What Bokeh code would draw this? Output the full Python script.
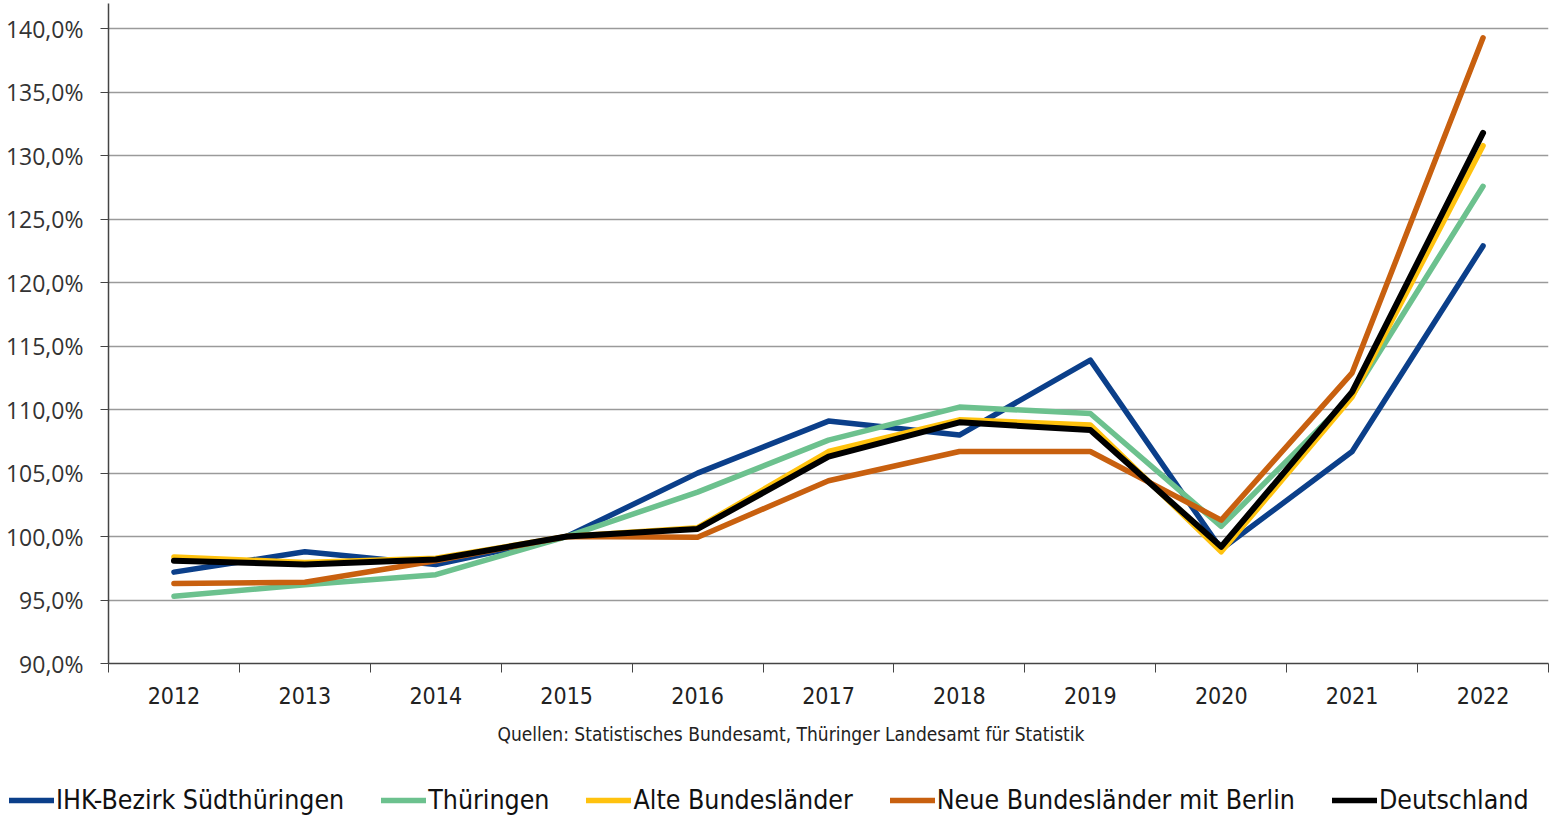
from bokeh.plotting import figure
from bokeh.models import FixedTicker, Legend, LegendItem, Label, Range1d
from bokeh.layouts import column
from bokeh.embed import file_html
from bokeh.resources import INLINE

years = ["2012", "2013", "2014", "2015", "2016", "2017", "2018", "2019", "2020", "2021", "2022"]

ihk_suedthueringen = [97.2, 98.8, 97.8, 100.0, 105.0, 109.1, 108.0, 113.9, 99.0, 106.7, 122.9]
thueringen = [95.3, 96.2, 97.0, 100.0, 103.5, 107.6, 110.2, 109.7, 100.8, 111.1, 127.6]
alte_bl = [98.4, 97.95, 98.3, 100.0, 100.7, 106.7, 109.2, 108.8, 98.8, 111.0, 130.8]
neue_bl = [96.3, 96.4, 98.1, 100.0, 99.95, 104.4, 106.7, 106.7, 101.3, 112.9, 139.3]
deutschland = [98.1, 97.8, 98.2, 100.0, 100.6, 106.3, 109.0, 108.4, 99.2, 111.4, 131.8]

series_names = ["IHK-Bezirk Südthüringen", "Thüringen", "Alte Bundesländer",
                "Neue Bundesländer mit Berlin", "Deutschland"]
series_values = [ihk_suedthueringen, thueringen, alte_bl, neue_bl, deutschland]
series_colors = ["#0b3f8a", "#6cc18e", "#ffc20e", "#c8600f", "#000000"]
series_widths = [5.5, 5.5, 5.5, 5.5, 6]

y_ticks = [90, 95, 100, 105, 110, 115, 120, 125, 130, 135, 140]
y_labels = {t: f"{t},0%" for t in y_ticks}
source_text = "Quellen: Statistisches Bundesamt, Thüringer Landesamt für Statistik"

COND = "DejaVu Sans Condensed"

xs = list(range(len(years)))

p = figure(width=1550, height=724, x_range=(-0.5, len(years) - 0.5), y_range=(90, 142),
           output_backend="svg", toolbar_location=None,
           min_border_left=108, min_border_right=2, min_border_top=3, min_border_bottom=61)
p.frame_align = False
p.outline_line_color = None
p.background_fill_color = "white"
p.border_fill_color = "white"

# y axis
p.yaxis.ticker = FixedTicker(ticks=y_ticks)
p.yaxis.major_label_overrides = y_labels
p.yaxis.major_label_text_font = "Open Sans"
p.yaxis.major_label_text_font_size = "23px"
p.yaxis.major_label_text_color = "#333333"
p.yaxis.major_tick_out = 8
p.yaxis.major_tick_in = 0
p.yaxis.minor_tick_out = 0
p.yaxis.minor_tick_in = 0
p.yaxis.major_label_standoff = 17
p.yaxis.axis_line_color = "#444444"
p.yaxis.major_tick_line_color = "#444444"
p.yaxis.axis_line_width = 1.5

# x axis: labels at centres, ticks between categories
p.xaxis.ticker = FixedTicker(ticks=xs, minor_ticks=[i - 0.5 for i in range(len(years) + 1)])
p.xaxis.major_label_overrides = {i: y for i, y in enumerate(years)}
p.xaxis.major_label_text_font = COND
p.xaxis.major_label_text_font_size = "23px"
p.xaxis.major_label_text_color = "#222222"
p.xaxis.major_tick_out = 0
p.xaxis.major_tick_in = 0
p.xaxis.minor_tick_out = 9
p.xaxis.minor_tick_in = 0
p.xaxis.minor_tick_line_color = "#444444"
p.xaxis.major_label_standoff = 14
p.xaxis.axis_line_color = "#444444"
p.xaxis.axis_line_width = 1.5

p.xgrid.grid_line_color = None
p.ygrid.grid_line_color = "#9a9a9a"
p.ygrid.grid_line_width = 1.5

for name, vals, col, w in zip(series_names, series_values, series_colors, series_widths):
    p.line(xs, vals, line_color=col, line_width=w, line_join="round", line_cap="round")

# second figure: source note and legend
p2 = figure(width=1550, height=94, x_range=Range1d(0, 1), y_range=Range1d(0, 1),
            output_backend="svg", toolbar_location=None, x_axis_type=None, y_axis_type=None,
            min_border=0)
p2.frame_align = False
p2.outline_line_color = None
p2.border_fill_alpha = 0
p2.background_fill_alpha = 0
p2.xgrid.visible = False
p2.ygrid.visible = False

src = Label(x=497, y=85, x_units="screen", y_units="screen", text=source_text,
            text_font=COND, text_font_size="19px", text_color="#222222",
            text_align="left", text_baseline="middle")
p2.add_layout(src)

items = []
for name, col in zip(series_names, series_colors):
    r = p2.line(x=[-10, -9], y=[-10, -10], line_color=col, line_width=5.5, line_cap="round")
    items.append(LegendItem(label=name, renderers=[r]))

legend = Legend(items=items, orientation="horizontal", location=(9, 3),
                label_text_font=COND, label_text_font_size="26.5px", label_text_color="#111111",
                glyph_width=45, glyph_height=20, label_standoff=2, spacing=37,
                padding=0, margin=0, border_line_color=None, background_fill_alpha=0)
p2.add_layout(legend)

open("out.html", "w").write(file_html(column(p, p2, spacing=0), INLINE))
